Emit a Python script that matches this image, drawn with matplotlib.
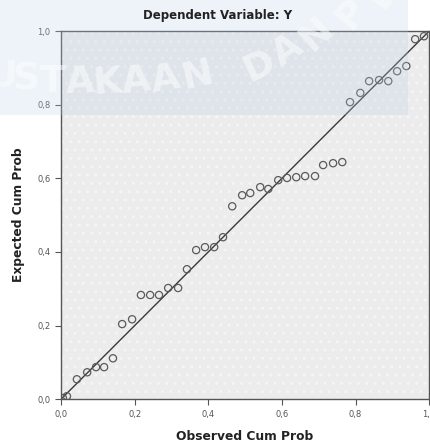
import numpy as np
import matplotlib.pyplot as plt
from matplotlib.patches import Rectangle
from matplotlib.ticker import FuncFormatter

# observed vs expected cumulative probabilities
observed = [0.005, 0.016, 0.043, 0.071, 0.095, 0.117, 0.141, 0.166, 0.193, 0.217,
            0.242, 0.266, 0.291, 0.318, 0.342, 0.367, 0.391, 0.416, 0.440, 0.465,
            0.492, 0.514, 0.541, 0.563, 0.590, 0.614, 0.639, 0.663, 0.690, 0.712,
            0.739, 0.764, 0.785, 0.813, 0.837, 0.864, 0.889, 0.913, 0.938, 0.962,
            0.986]
expected = [0.003, 0.008, 0.054, 0.073, 0.087, 0.087, 0.111, 0.204, 0.217, 0.283,
            0.283, 0.283, 0.302, 0.302, 0.353, 0.405, 0.413, 0.413, 0.440, 0.524,
            0.554, 0.560, 0.576, 0.571, 0.595, 0.601, 0.603, 0.606, 0.606, 0.636,
            0.641, 0.644, 0.807, 0.832, 0.864, 0.867, 0.864, 0.891, 0.905, 0.978,
            0.986]
ticks = [0.0, 0.2, 0.4, 0.6, 0.8, 1.0]

# library watermark letters: char, x px, y px, rotation
wm_chars = ['U', 'S', 'T', 'A', 'K', 'A', 'A', 'N', 'D', 'A', 'N', 'P', 'E']
wm_x = [2, 26, 53, 80, 107, 136, 166, 198, 259, 288, 317, 352, 382]
wm_y = [76, 80, 82, 83, 83, 82, 80, 76, 66, 51, 34, 14, -6]
wm_rot = [-2, 0, 0, 2, 4, 6, 9, 13, 25, 33, 42, 50, 56]

W, H = 430, 444
fig = plt.figure(figsize=(W / 100, H / 100), dpi=100)
ax = fig.add_axes([0.142, 0.101, 0.856, 0.829])

# dotted grey plot background like SPSS
ax.set_facecolor('#ececec')
ax.add_patch(Rectangle((0, 0), 1, 1, transform=ax.transAxes, facecolor='none',
                       edgecolor='#f5f5f5', hatch='..', linewidth=0, zorder=0))

ax.plot([0, 1], [0, 1], color='#3a3a3a', linewidth=1.0, zorder=2)
ax.scatter(observed, expected, s=27, facecolors='none', edgecolors='#5a5a5a',
           linewidths=0.9, zorder=3)

ax.set_xlim(0, 1)
ax.set_ylim(0, 1)
ax.set_xticks(ticks)
ax.set_yticks(ticks)
fmt = FuncFormatter(lambda v, p: f'{v:.1f}'.replace('.', ','))
ax.xaxis.set_major_formatter(fmt)
ax.yaxis.set_major_formatter(fmt)
ax.tick_params(labelsize=6, colors='#555555', length=4, width=0.8)
for s in ax.spines.values():
    s.set_color('#555555')
    s.set_linewidth(1.0)

ax.set_xlabel('Observed Cum Prob', fontsize=8.8, fontweight='bold', color='#222222', labelpad=8)
ax.set_ylabel('Expected Cum Prob', fontsize=8.8, fontweight='bold', color='#222222', labelpad=9)

# bluish tint of the scanned watermark at the top
fig.patches.append(Rectangle((0, 1 - 115 / H), 408 / W, 115 / H, transform=fig.transFigure,
                             facecolor='#b8d0e6', alpha=0.25, linewidth=0, zorder=4))
for c, x, y, r in zip(wm_chars, wm_x, wm_y, wm_rot):
    fig.text(x / W, 1 - y / H, c, fontsize=27, fontweight='bold', color='white', alpha=0.5,
             ha='center', va='center', rotation=r, rotation_mode='anchor', zorder=5)

fig.text(218 / W, 1 - 15 / H, 'Dependent Variable: Y', fontsize=8.5, fontweight='bold',
         color='#222222', ha='center', va='center', zorder=6)

fig.savefig('out.png', dpi=100)
